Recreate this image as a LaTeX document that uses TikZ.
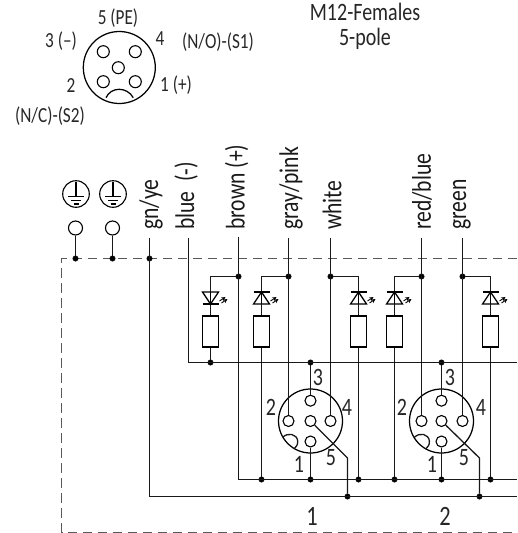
\documentclass[tikz,border=0pt]{standalone}
\usepackage{fontspec}
\setmainfont[FakeStretch=0.8]{Carlito}
\tikzset{
  wire/.style={line width=1.3pt, color=black!90},
  frameline/.style={line width=1pt, color=black!65, dash pattern=on 9.5pt off 5.5pt},
  dotnode/.style={draw, shape=circle, fill=black, inner sep=0pt, minimum size=5.5pt},
  pinnode/.style={draw, shape=circle, line width=1.1pt, fill=white, inner sep=0pt, minimum size=11pt},
  plugnode/.style={draw, shape=circle, line width=1.25pt, inner sep=0pt, minimum size=64pt},
  resnode/.style={draw, shape=rectangle, line width=1.25pt, fill=white, inner sep=0pt, minimum width=16pt, minimum height=31pt},
  termnode/.style={draw, shape=circle, line width=1.1pt, fill=white, inner sep=0pt, minimum size=14pt},
  wirelabel/.style={rotate=90, anchor=west, inner sep=0pt, font=\fontsize{27}{27}\selectfont, text=black!90},
  numlabel/.style={inner sep=0pt, font=\fontsize{25}{25}\selectfont, text=black!85},
  ledglow/.pic={
    \draw[line width=0.9pt, ->, >=stealth] (9,3) -- (15,-1);
    \draw[line width=0.9pt, ->, >=stealth] (11,5) -- (17,1);
  },
  ledup/.pic={
    \draw[line width=1.25pt, fill=white] (-8,6) -- (8,6) -- (0,-6) -- cycle;
    \draw[line width=1.25pt] (-8,-6) -- (8,-6);
    \draw[line width=1.25pt] (0,6) -- (0,-6);
    \pic {ledglow};
  },
  leddown/.pic={
    \draw[line width=1.25pt, fill=white] (-8,-6) -- (8,-6) -- (0,6) -- cycle;
    \draw[line width=1.25pt] (-8,6) -- (8,6);
    \draw[line width=1.25pt] (0,6) -- (0,-6);
    \pic {ledglow};
  },
  earth/.pic={
    \draw[line width=1.1pt] (0,0) circle (13.3);
    \draw[line width=1.1pt] (0,-12) -- (0,2.7);
    \draw[line width=1.1pt] (-8,2.7) -- (8,2.7);
    \draw[line width=1.1pt] (-5,6.5) -- (5,6.5);
    \draw[line width=1.1pt] (-2.5,10) -- (2.5,10);
  },
}
\begin{document}
\begin{tikzpicture}[x=1pt, y=-1pt]
  \useasboundingbox (0,0) rectangle (517,533);

  % Pole picture
  \node[plugnode, minimum size=72pt] (face) at (119.3,67.5) {};
  \begin{scope}[every node/.style={pinnode, minimum size=12pt}]
    \node (f1) at (135.3,81.7) {};
    \node (f2) at (103.3,81.7) {};
    \node (f3) at (103.3,51.7) {};
    \node (f4) at (135.3,51.7) {};
    \node (f5) at (118.3,67.7) {};
  \end{scope}
  \draw[line width=1.25pt] (106,97.7) .. controls (111,86.5) and (127,86.5) .. (133.3,97.7);

  \begin{scope}[every node/.style={numlabel, font=\fontsize{21.5}{21.5}\selectfont}]
    \node (l5) at (118,18) {5 (PE)};
    \node (l3) at (61,41) {3 (--)};
    \node (l4) at (160,39) {4};
    \node (lno) at (218,42) {(N/O)-(S1)};
    \node (l1) at (176,85) {1 (+)};
    \node (l2) at (71,86) {2};
    \node (lnc) at (50,116) {(N/C)-(S2)};
  \end{scope}
  \begin{scope}[every node/.style={numlabel, font=\fontsize{25}{25}\selectfont}]
    \node (title) at (365,12) {M12-Females};
    \node (poles) at (365,39) {5-pole};
  \end{scope}

  % Frame
  \coordinate (c00) at (61.5,258.5);
  \coordinate (c01) at (61.5,532);
  \coordinate (c10) at (517,258.5);
  \coordinate (c11) at (517,532);
  \draw[frameline] (c10) -- (c00) -- (c01) -- (c11);

  % Earth terminals
  \pic at (76,194) {earth};
  \pic at (113,194) {earth};
  \node[termnode] (t1) at (75.5,228) {};
  \node[termnode] (t2) at (112.5,228) {};

  % Wire names
  \node[wirelabel] (ngn) at (151,230) {gn/ye};
  \node[wirelabel] (nbl) at (186,230) {blue\ \ (-)};
  \node[wirelabel] (nbr) at (236.5,230) {brown (+)};
  \node[wirelabel] (ngp) at (291,230) {gray/pink};
  \node[wirelabel] (nwh) at (332,230) {white};
  \node[wirelabel] (nrb) at (422,230) {red/blue};
  \node[wirelabel] (ngr) at (462,230) {green};

  % Wire ends
  \coordinate (egn) at (149.5,238);
  \coordinate (ebl) at (188.5,238);
  \coordinate (ebr) at (238.5,237);
  \coordinate (egp) at (288.5,238);
  \coordinate (ewh) at (330.5,238);
  \coordinate (erb) at (421.5,238);
  \coordinate (egr) at (462.5,238);
  \coordinate (cbl) at (188.5,362.5);
  \coordinate (cbr) at (238.5,479.5);
  \coordinate (cgn) at (149.5,496.5);
  \coordinate (rbl) at (517,362.5);
  \coordinate (rbr) at (517,479.5);
  \coordinate (rgn) at (517,496.5);

  % Connectors
  \node[plugnode] (plugA) at (310.5,421) {};
  \node[plugnode] (plugB) at (441.5,421) {};

  % Resistors
  \begin{scope}[every node/.style={resnode}]
    \node (r1) at (210.5,331.5) {};
    \node (r2) at (261.5,331.5) {};
    \node (r3) at (358.5,331.5) {};
    \node (r4) at (394.5,331.5) {};
    \node (r5) at (490.5,331.5) {};
  \end{scope}

  % Dots
  \begin{scope}[every node/.style={dotnode}]
    \node (d1) at (75.5,258.5) {};
    \node (d2) at (112.5,258.5) {};
    \node (d3) at (149.5,258.5) {};

    \node (b1) at (238.5,276.5) {};
    \node (b2) at (288.5,276.5) {};
    \node (b3) at (330.5,276.5) {};
    \node (b4) at (421.5,276.5) {};
    \node (b5) at (462.5,276.5) {};

    \node (u1) at (210.5,362.5) {};
    \node (u2) at (310.5,362.5) {};
    \node (u3) at (441.5,362.5) {};

    \node (v1) at (261.5,479.5) {};
    \node (v2) at (310.5,479.5) {};
    \node (v3) at (358.5,479.5) {};
    \node (v4) at (394.5,479.5) {};
    \node (v5) at (441.5,479.5) {};
    \node (v6) at (490.5,479.5) {};

    \node (w1) at (347.5,496.5) {};
    \node (w2) at (479.5,496.5) {};
  \end{scope}

  % Pins
  \begin{scope}[every node/.style={pinnode}]
    \node (a1) at (310.5,441.5) {};
    \node (a2) at (288.5,421) {};
    \node (a3) at (310.5,400.7) {};
    \node (a4) at (330.5,421) {};
    \node (a5) at (310.5,421) {};

    \node (c1) at (441.5,441.5) {};
    \node (c2) at (421.5,421) {};
    \node (c3) at (441.5,400.7) {};
    \node (c4) at (462.5,421) {};
    \node (c5) at (441.5,421) {};
  \end{scope}

  \coordinate (ka) at (347.5,458);
  \coordinate (kc) at (479.5,458);

  \begin{scope}[wire]
    % Straight
    \draw (t1) -- (d1);
    \draw (t2) -- (d2);
    \draw (egn) -- (cgn) -- (rgn);
    \draw (ebl) -- (cbl) -- (rbl);
    \draw (ebr) -- (cbr) -- (rbr);
    \draw (egp) -- (a2);
    \draw (ewh) -- (a4);
    \draw (erb) -- (c2);
    \draw (egr) -- (c4);

    % Branches
    \draw (b1) -| (r1);
    \draw (b2) -| (r2);
    \draw (b3) -| (r3);
    \draw (b4) -| (r4);
    \draw (b5) -| (r5);

    \draw (r1) -- (u1);
    \draw (r2) -- (v1);
    \draw (r3) -- (v3);
    \draw (r4) -- (v4);
    \draw (r5) -- (v6);

    % Pin wires
    \draw (u2) -- (a3);
    \draw (v2) -- (a1);
    \draw (a5) -- (ka) -- (w1);
    \draw (u3) -- (c3);
    \draw (v5) -- (c1);
    \draw (c5) -- (kc) -- (w2);

    % Keys
    \draw (282.7,437.3) .. controls (288,432) and (297,434) .. (297.7,441) .. controls (298,445) and (296,447) .. (294,449);
    \draw (414.4,437.3) .. controls (419.7,432) and (428.7,434) .. (429.4,441) .. controls (429.7,445) and (427.7,447) .. (425.7,449);
  \end{scope}

  % LEDs
  \pic at (210.5,298) {leddown};
  \pic at (261.5,298) {ledup};
  \pic at (358.5,298) {ledup};
  \pic at (394.5,298) {ledup};
  \pic at (490.5,298) {ledup};

  % Pin numbers
  \begin{scope}[every node/.style={numlabel}]
    \node (na3) at (318,377) {3};
    \node (na2) at (271,407) {2};
    \node (na4) at (347,407) {4};
    \node (na1) at (299,464) {1};
    \node (na5) at (331,458) {5};

    \node (nc3) at (450,377) {3};
    \node (nc2) at (402,407) {2};
    \node (nc4) at (481,407) {4};
    \node (nc1) at (432,464) {1};
    \node (nc5) at (464,458) {5};

    \node[font=\fontsize{28}{28}\selectfont] (nA) at (312,516) {1};
    \node[font=\fontsize{28}{28}\selectfont] (nB) at (445,516) {2};
  \end{scope}
\end{tikzpicture}
\end{document}
